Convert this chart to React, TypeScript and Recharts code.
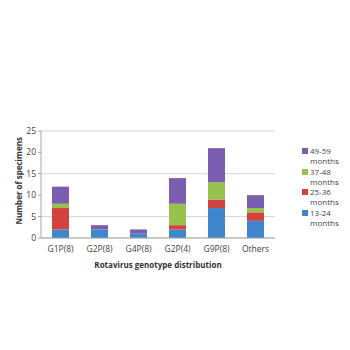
import { Bar, BarChart, CartesianGrid, XAxis, YAxis } from "recharts";

const genotypes = ["G1P(8)", "G2P(8)", "G4P(8)", "G2P(4)", "G9P(8)", "Others"];
const age13to24 = [2, 2, 1, 2, 7, 4];
const age25to36 = [5, 0, 0, 1, 2, 2];
const age37to48 = [1, 0, 0, 5, 4, 1];
const age49to59 = [4, 1, 1, 6, 8, 3];
const yTicks = [0, 5, 10, 15, 20, 25];

const series = [
  { key: "a", label: "13-24", color: "#3f86cc", values: age13to24 },
  { key: "b", label: "25-36", color: "#d2423f", values: age25to36 },
  { key: "c", label: "37-48", color: "#97c24c", values: age37to48 },
  { key: "d", label: "49-59", color: "#7b5eaf", values: age49to59 },
];

const data = genotypes.map((name, i) => {
  const row: Record<string, string | number> = { name };
  series.forEach((s) => (row[s.key] = s.values[i]));
  return row;
});

const font = "'Open Sans', 'Liberation Sans', sans-serif";

function LegendBox() {
  return (
    <div
      style={{
        position: "absolute",
        left: 302,
        top: 146,
        fontFamily: font,
        fontSize: 8,
        color: "#444",
        lineHeight: "10px",
      }}
    >
      {[...series].reverse().map((s) => (
        <div key={s.key} style={{ display: "flex", height: 20.7 }}>
          <span
            style={{ width: 6, height: 6, background: s.color, marginTop: 2, marginRight: 2 }}
          />
          <span>
            {s.label}
            <br />
            months
          </span>
        </div>
      ))}
    </div>
  );
}

export default function App() {
  return (
    <div style={{ position: "absolute", left: 0, top: 0, width: 350, height: 350, background: "#fff" }}>
      <BarChart
        width={350}
        height={350}
        data={data}
        margin={{ top: 131, right: 75, bottom: 98, left: 21 }}
        barSize={17}
      >
        <CartesianGrid vertical={false} stroke="#d4d4d4" />
        <XAxis
          dataKey="name"
          height={14}
          tickLine={false}
          stroke="#a6a6a6"
          tick={{ fontSize: 8.5, fill: "#404040", fontFamily: font }}
          label={{
            value: "Rotavirus genotype distribution",
            position: "insideBottom",
            offset: -16,
            fontSize: 8,
            fontWeight: "bold",
            fill: "#333",
            fontFamily: font,
          }}
        />
        <YAxis
          width={20}
          domain={[0, 25]}
          ticks={yTicks}
          tickSize={3}
          stroke="#a6a6a6"
          tick={{ fontSize: 8.5, fill: "#404040", fontFamily: font }}
          label={{
            value: "Number of specimens",
            angle: -90,
            position: "insideLeft",
            offset: -2,
            dy: 40,
            fontSize: 8,
            fontWeight: "bold",
            fill: "#333",
            fontFamily: font,
          }}
        />
        {series.map((s) => (
          <Bar key={s.key} dataKey={s.key} stackId="age" fill={s.color} isAnimationActive={false} />
        ))}
      </BarChart>
      <LegendBox />
    </div>
  );
}
